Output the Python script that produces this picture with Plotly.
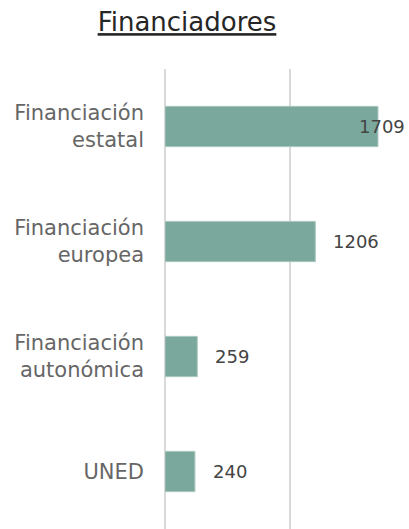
import plotly.graph_objects as go

# Datos del gráfico de financiadores
categorias = ["Financiación<br>estatal", "Financiación<br>europea", "Financiación<br>autonómica", "UNED"]
valores = [1709, 1206, 259, 240]

FONT = "DejaVu Sans"
X_MAX = 1958

fig = go.Figure(
    go.Bar(
        x=valores,
        y=categorias,
        orientation="h",
        marker=dict(color="#7BA89D", line=dict(color="#A9C7BF", width=1)),
        width=0.35,
        hoverinfo="skip",
    )
)

# Etiquetas de datos a la derecha de cada barra
for cat, val in zip(categorias, valores):
    cabe = val + 16 / 0.1246 + 350 < X_MAX
    fig.add_annotation(
        x=val if cabe else X_MAX,
        y=cat,
        text=str(val),
        showarrow=False,
        xanchor="left" if cabe else "right",
        xshift=16 if cabe else -2,
        font=dict(family=FONT, size=18, color="#444444"),
    )

fig.update_layout(
    width=409,
    height=529,
    margin=dict(l=165, r=0, t=69, b=0),
    paper_bgcolor="white",
    plot_bgcolor="white",
    showlegend=False,
    title=dict(
        text="<u>Financiadores</u>",
        x=187 / 409,
        xanchor="center",
        y=1 - 22 / 529,
        yanchor="middle",
        font=dict(family=FONT, size=26, color="#262626"),
    ),
)
fig.update_xaxes(
    range=[0, X_MAX],
    dtick=1000,
    showgrid=True,
    gridcolor="#D9D9D9",
    gridwidth=2,
    zeroline=True,
    zerolinecolor="#D9D9D9",
    zerolinewidth=2,
    showticklabels=False,
    fixedrange=True,
)
fig.update_yaxes(
    categoryorder="array",
    categoryarray=categorias[::-1],
    range=[-0.5, 3.5],
    automargin=False,
    ticklabelstandoff=20,
    tickfont=dict(family=FONT, size=21, color="#666666"),
    showgrid=False,
    fixedrange=True,
)

fig.write_html(
    "out.html",
    config={"displayModeBar": False},
    post_script="document.body.style.margin='0';",
)
